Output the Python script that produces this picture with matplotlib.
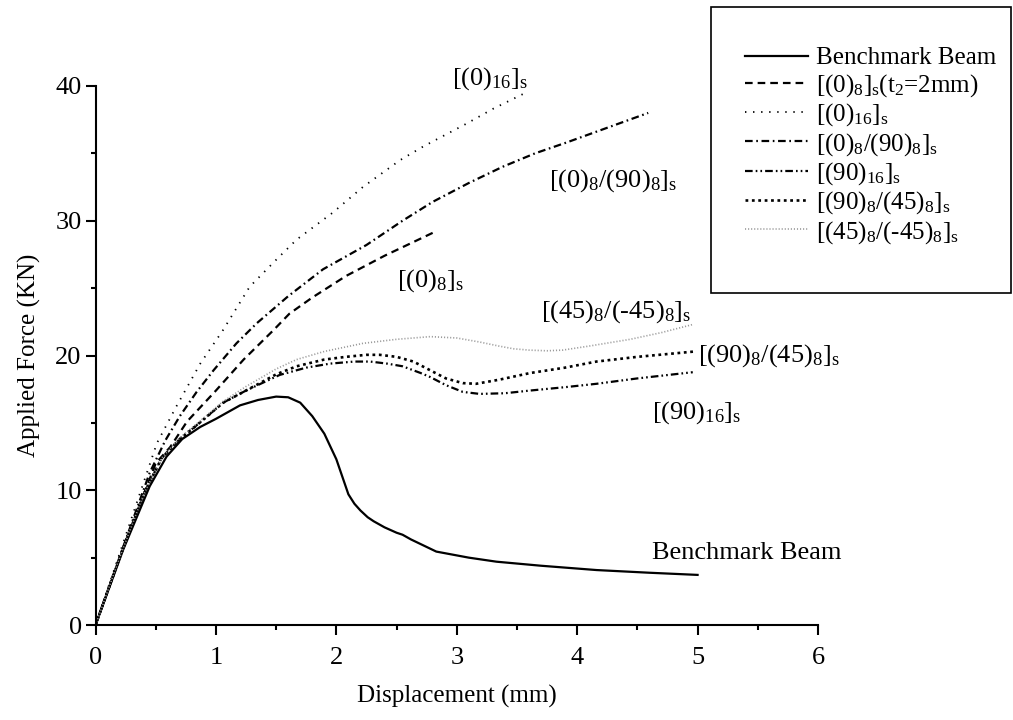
import matplotlib
matplotlib.use("Agg")
import matplotlib.pyplot as plt
from matplotlib.patches import Rectangle
from matplotlib.ticker import MultipleLocator

plt.rcParams.update({
    "font.family": "serif",
    "font.serif": ["Liberation Serif", "DejaVu Serif"],
    "mathtext.fontset": "custom",
    "mathtext.rm": "Liberation Serif",
    "mathtext.it": "Liberation Serif",
    "mathtext.default": "rm",
    "lines.scale_dashes": False,
})

# Benchmark Beam
bench_x = [0, 0.23, 0.45, 0.59, 0.72, 0.87, 1.0, 1.2, 1.35, 1.5, 1.6, 1.7, 1.8, 1.9,
           2.0, 2.05, 2.1, 2.15, 2.2, 2.26, 2.31, 2.4, 2.5, 2.55, 2.62, 2.83, 3.1, 3.33,
           3.7, 4.16, 4.6, 5.0]
bench_y = [0, 5.6, 10.3, 12.5, 13.8, 14.7, 15.3, 16.3, 16.7, 16.95, 16.9, 16.5, 15.5, 14.2,
           12.3, 11.0, 9.7, 9.0, 8.5, 8.0, 7.7, 7.25, 6.85, 6.7, 6.35, 5.45, 5.0, 4.7,
           4.4, 4.08, 3.88, 3.72]

# [(0)8]s (t2=2mm)
t2_x = [0, 0.25, 0.5, 0.62, 0.76, 1.0, 1.23, 1.48, 1.61, 1.8, 2.08, 2.4, 2.8]
t2_y = [0, 6.2, 12.0, 13.2, 15.1, 17.4, 19.7, 21.9, 23.1, 24.3, 25.9, 27.4, 29.1]

# [(0)16]s
o16_x = [0, 0.2, 0.37, 0.51, 0.67, 0.87, 1.06, 1.28, 1.5, 1.67, 1.97, 2.22, 2.53, 2.72, 3.08, 3.3, 3.55]
o16_y = [0, 5.3, 9.8, 13.5, 16.2, 19.4, 21.9, 25.1, 27.1, 28.6, 30.6, 32.5, 34.5, 35.5, 37.2, 38.3, 39.4]

# [(0)8/(90)8]s
o90_x = [0, 0.25, 0.45, 0.58, 0.70, 0.84, 0.98, 1.17, 1.34, 1.6, 1.89, 2.25, 2.55, 2.8,
         3.1, 3.38, 3.65, 3.91, 4.25, 4.59]
o90_y = [0, 6.3, 11.3, 13.7, 15.5, 17.3, 18.9, 20.9, 22.4, 24.4, 26.4, 28.2, 30.0, 31.4,
         32.8, 34.0, 35.0, 35.8, 36.9, 38.0]

# [(90)16]s
n16_x = [0, 0.2, 0.4, 0.55, 0.7, 0.85, 1.06, 1.25, 1.53, 1.75, 1.95, 2.15, 2.28, 2.42,
         2.55, 2.7, 2.78, 2.91, 3.05, 3.19, 3.4, 3.61, 3.9, 4.16, 4.5, 4.96]
n16_y = [0, 5.0, 9.7, 12.4, 13.8, 14.9, 16.5, 17.4, 18.56, 19.1, 19.4, 19.55, 19.55, 19.4,
         19.2, 18.7, 18.4, 17.8, 17.3, 17.15, 17.2, 17.4, 17.65, 17.9, 18.3, 18.76]

# [(90)8/(45)8]s
n45_x = [0, 0.2, 0.4, 0.55, 0.7, 0.85, 1.06, 1.25, 1.5, 1.67, 1.9, 2.08, 2.25, 2.36,
         2.5, 2.64, 2.78, 2.91, 3.05, 3.16, 3.35, 3.61, 3.9, 4.16, 4.5, 4.98]
n45_y = [0, 5.0, 9.7, 12.4, 13.8, 14.9, 16.5, 17.4, 18.6, 19.2, 19.7, 19.9, 20.05, 20.05,
         19.9, 19.55, 18.9, 18.3, 17.95, 17.9, 18.2, 18.7, 19.1, 19.55, 19.9, 20.3]

# [(45)8/(-45)8]s
pm45_x = [0, 0.2, 0.4, 0.55, 0.7, 0.85, 1.06, 1.25, 1.5, 1.67, 1.9, 2.22, 2.5, 2.78,
          3.0, 3.19, 3.35, 3.47, 3.6, 3.75, 3.88, 4.1, 4.44, 4.7, 4.96]
pm45_y = [0, 5.0, 9.7, 12.4, 13.9, 15.0, 16.6, 17.7, 19.0, 19.7, 20.3, 20.9, 21.2, 21.4,
          21.3, 21.0, 20.7, 20.5, 20.4, 20.35, 20.4, 20.7, 21.2, 21.7, 22.3]

# hyphen kept outside math so it is not drawn as a minus sign
legend_labels = [
    "Benchmark Beam",
    r"$[(0)_8]_s$($t_2$=2mm)",
    r"$[(0)_{16}]_s$",
    r"$[(0)_8/(90)_8]_s$",
    r"$[(90)_{16}]_s$",
    r"$[(90)_8/(45)_8]_s$",
    r"$[(45)_8/$(-45$)_8]_s$",
]

fig = plt.figure(figsize=(10.13, 7.2), dpi=100)
ax = fig.add_axes([0.0943, 0.1319, 0.7132, 0.7487])

ax.plot(bench_x, bench_y, color="black", lw=1.6, label=legend_labels[0])
ax.plot(t2_x, t2_y, color="black", lw=1.6, dashes=(5.5, 3.6), label=legend_labels[1])
ax.plot(o16_x, o16_y, color="black", lw=1.3, dashes=(1.0, 4.8), label=legend_labels[2])
ax.plot(o90_x, o90_y, color="black", lw=1.6, dashes=(5.5, 2.6, 1.2, 2.6), label=legend_labels[3])
ax.plot(n16_x, n16_y, color="black", lw=1.6,
        dashes=(5.5, 2.2, 1.2, 2.2, 1.2, 2.2), label=legend_labels[4])
ax.plot(n45_x, n45_y, color="black", lw=1.9, dashes=(2.0, 2.6), label=legend_labels[5])
ax.plot(pm45_x, pm45_y, color="#9a9a9a", lw=1.2, dashes=(0.8, 1.4), label=legend_labels[6])

ax.set_xlim(0, 6)
ax.set_ylim(0, 40)
ax.xaxis.set_major_locator(MultipleLocator(1))
ax.xaxis.set_minor_locator(MultipleLocator(0.5))
ax.yaxis.set_major_locator(MultipleLocator(10))
ax.yaxis.set_minor_locator(MultipleLocator(5))
for side in ("top", "right"):
    ax.spines[side].set_visible(False)
for side in ("left", "bottom"):
    ax.spines[side].set_linewidth(1.5)
ax.tick_params(which="major", direction="out", length=7, width=1.5, labelsize=19)
ax.tick_params(which="minor", direction="out", length=3.6, width=1.5)
ax.tick_params(axis="y", pad=3)
ax.tick_params(axis="x", pad=9)

ax.set_xlabel("Displacement (mm)", fontsize=18, labelpad=11)
ax.set_ylabel("Applied Force (KN)", fontsize=18, labelpad=10)

# curve annotations
notes = [
    (2.96, 40.1, r"$[(0)_{16}]_s$"),
    (3.77, 32.5, r"$[(0)_8/(90)_8]_s$"),
    (2.50, 25.1, r"$[(0)_8]_s$"),
    (3.70, 22.8, r"$[(45)_8/$(-45$)_8]_s$"),
    (5.00, 19.55, r"$[(90)_8/(45)_8]_s$"),
    (4.62, 15.35, r"$[(90)_{16}]_s$"),
    (4.62, 4.88, "Benchmark Beam"),
]
for nx, ny, txt in notes:
    ax.text(nx, ny, txt, fontsize=19, ha="left", va="baseline", clip_on=False)

# legend box
fig.patches.append(Rectangle((711 / 1013, 1 - 293 / 720), 300 / 1013, 286 / 720,
                             transform=fig.transFigure, fill=False,
                             edgecolor="black", lw=1.2))
ax.legend(loc="upper left", bbox_to_anchor=(745 / 1013, 1 - 47 / 720),
          bbox_transform=fig.transFigure, frameon=False, fontsize=18,
          borderpad=0, borderaxespad=0, handlelength=2.5, handletextpad=0.32,
          labelspacing=0.1)

fig.savefig("out.png", dpi=100)
